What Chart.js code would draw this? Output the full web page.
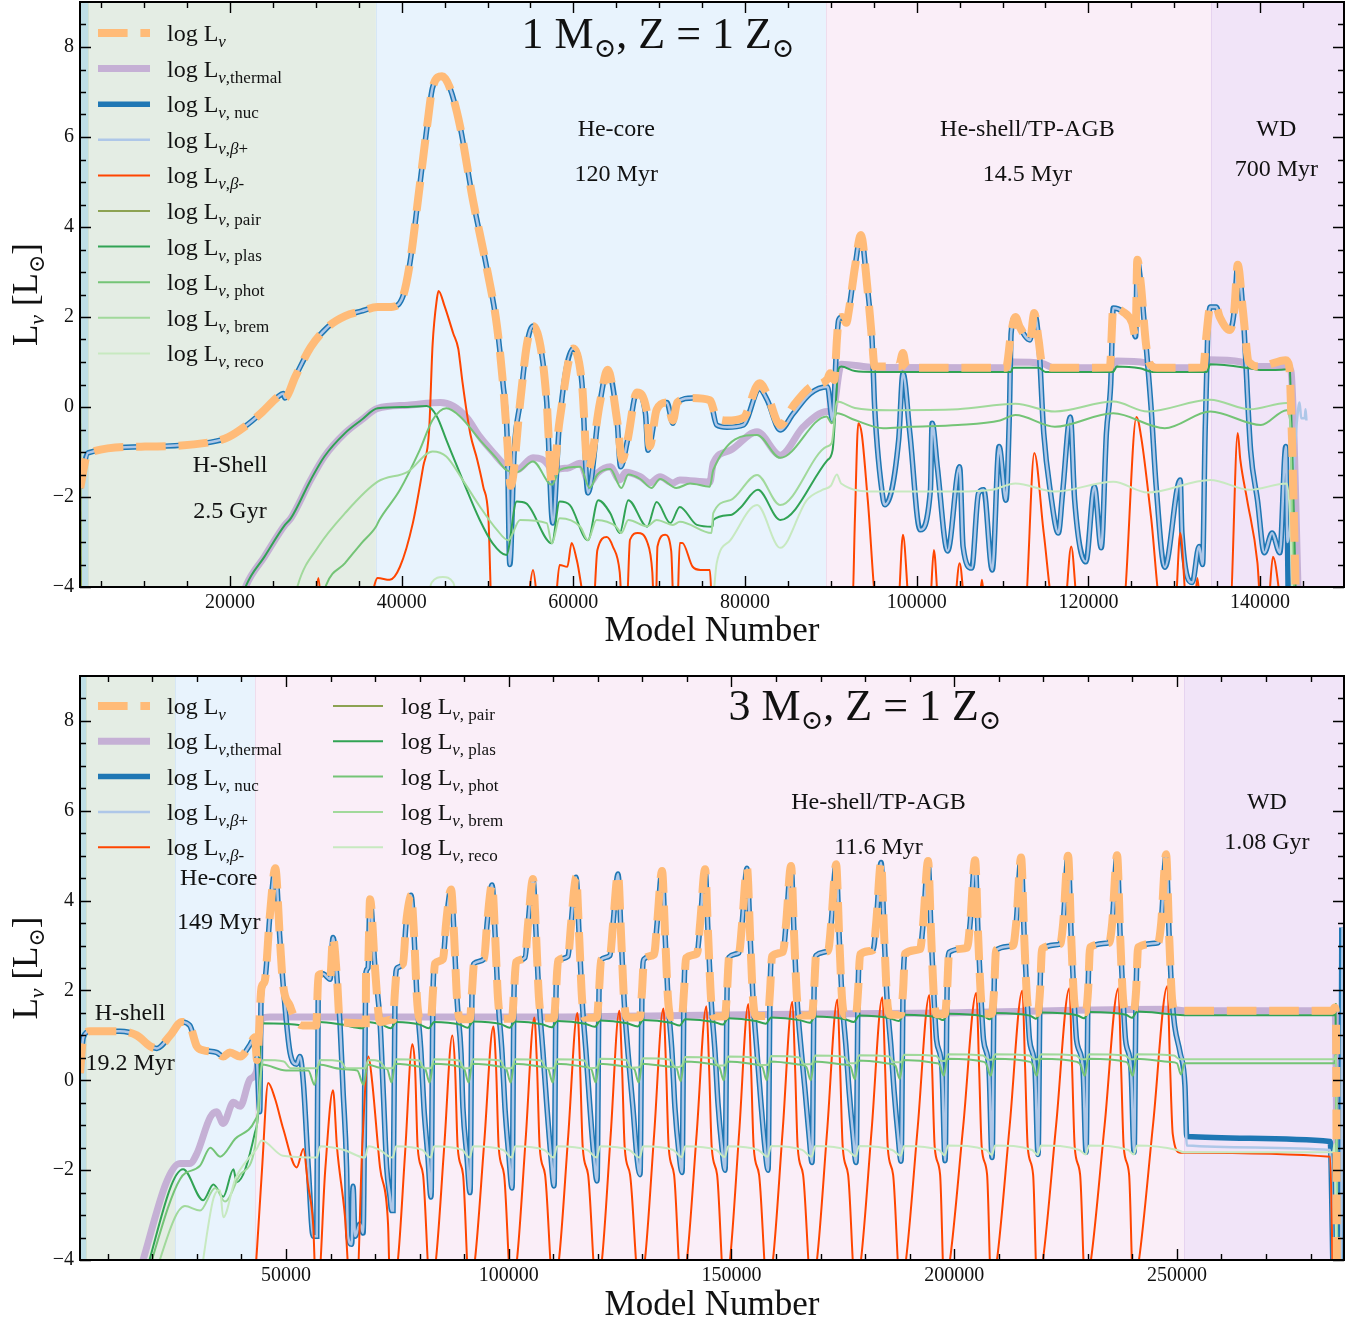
<!DOCTYPE html>
<html>
<head>
<meta charset="utf-8">
<script src="https://cdn.jsdelivr.net/npm/chart.js@4.4.1/dist/chart.umd.min.js"></script>
<style>
  body { margin: 0; background: #fff; }
  #wrap { position: relative; width: 1364px; height: 1323px; }
  canvas { position: absolute; left: 0; }
  #c1 { top: 0; }
  #c2 { top: 662px; }
</style>
</head>
<body>
<div id="wrap">
  <canvas id="c1" width="1364" height="660"></canvas>
  <canvas id="c2" width="1364" height="661"></canvas>
</div>
<script>
const SERIF = '"Liberation Serif", "DejaVu Serif", serif';

// ---------------- top panel: 1 Msun, Z = 1 Zsun ----------------
const xLim1 = [2525, 149780];
const xMajor1 = [20000, 40000, 60000, 80000, 100000, 120000, 140000];
const xMinorStep1 = 5000;
const phases1 = [2525, 3460, 37000, 89430, 134300, 149780];
const notes1 = [
  ["H-Shell", 20000, -1.31], ["2.5 Gyr", 20000, -2.33],
  ["He-core", 65000, 6.16], ["120 Myr", 65000, 5.16],
  ["He-shell/TP-AGB", 112900, 6.16], ["14.5 Myr", 112900, 5.16],
  ["WD", 141900, 6.16], ["700 Myr", 141900, 5.27]
];

const tot1 = [[2550,-1.8],[3460,-1.02],[10100,-0.88],[17800,-0.78],[19800,-0.67],[21700,-0.44],[23600,-0.14],[25600,0.23],[26200,0.3],[26400,0.2],[27600,0.67],[29400,1.33],[31400,1.78],[33400,2.02],[35300,2.13],[37200,2.22],[39000,2.23],[40200,2.49],[41000,3.25],[41900,4.6],[43000,6.3],[43600,7.1],[44700,7.35],[45600,7.1],[46800,6.24],[48300,4.6],[49900,3.1],[51100,1.8],[51800,0.53],[52300,-0.75],[52700,-1.75],[53800,0.1],[54600,1.4],[55300,1.8],[56300,1.2],[56900,0.1],[57500,-1.7],[58400,-0.3],[60000,1.3],[61000,0.53],[61700,-1.4],[63100,0.1],[64000,0.83],[65100,-0.3],[65700,-1.17],[66300,-0.75],[67400,0.32],[68600,-0.15],[68900,-0.87],[69700,-0.06],[70900,0.1],[71600,-0.3],[72100,0.1],[73900,0.2],[75900,0.15],[76700,-0.24],[77900,-0.3],[79800,-0.24],[81700,0.53],[82600,0.27],[84100,-0.4],[85600,0.02],[87600,0.44],[89600,0.62],[89900,0.75],[90400,0.6],[90700,1.49],[90900,1.93],[91300,2.0],[91800,1.87],[92100,2.15],[92800,3.1],[93500,3.82],[94200,2.75],[94800,1.49],[95100,0.9],[97900,0.9],[98400,1.2],[98800,0.87],[104800,0.87],[110400,0.87],[111000,1.64],[111500,2.0],[112000,1.78],[113200,1.49],[113700,2.09],[114200,1.49],[114600,0.97],[116000,0.87],[122500,0.88],[122900,2.2],[124000,2.12],[125100,1.87],[125500,1.56],[125700,3.27],[126100,2.75],[126700,1.42],[127100,0.98],[128000,0.87],[133400,0.88],[133700,1.49],[134200,2.22],[134900,2.22],[135300,2.0],[136500,1.71],[137000,2.15],[137400,3.16],[138000,2.15],[138700,1.0],[140000,0.9],[143000,1.04],[143400,0.9],[143700,-0.6],[144200,-4.5]];

const nuc1 = [[2550,-1.8],[3460,-1.02],[10100,-0.88],[17800,-0.78],[19800,-0.67],[21700,-0.44],[23600,-0.14],[25600,0.23],[26200,0.3],[26400,0.2],[27600,0.67],[29400,1.33],[31400,1.78],[33400,2.02],[35300,2.13],[37200,2.22],[39000,2.23],[40200,2.49],[41000,3.25],[41900,4.6],[43000,6.3],[43600,7.1],[44700,7.35],[45600,7.1],[46800,6.24],[48300,4.6],[49900,3.1],[51100,1.8],[51800,0.53],[52300,-0.75],[52600,-3.5],[53100,-1.0],[53800,0.1],[54600,1.4],[55300,1.8],[56300,1.2],[56900,0.1],[57600,-2.58],[58400,-0.3],[60000,1.3],[61000,0.53],[61700,-1.91],[63100,0.1],[64000,0.83],[65100,-0.3],[65500,-1.33],[66300,-0.75],[67400,0.32],[68400,-0.15],[68700,-0.96],[69700,-0.06],[70900,0.1],[71600,-0.36],[72100,0.1],[73900,0.2],[75900,0.15],[76700,-0.4],[77900,-0.45],[79800,-0.4],[81700,0.4],[82600,0.15],[84100,-0.51],[85600,-0.15],[87600,0.3],[89600,0.45],[90200,-0.3],[90700,1.49],[90900,1.93],[91300,2.0],[91800,1.87],[92100,2.15],[92800,3.1],[93500,3.82],[94200,2.75],[94800,1.49],[95100,0.0],[96100,-2.07],[96300,-2.17],[97900,-0.73],[98400,0.75],[99200,-0.58],[100400,-2.73],[101600,-1.84],[101800,-0.36],[102400,-1.33],[103600,-3.2],[105000,-1.33],[105400,-3.1],[106400,-3.58],[107200,-1.92],[107800,-1.84],[108800,-3.62],[109600,-0.88],[110400,-2.07],[110800,-0.14],[111000,1.64],[111500,2.0],[112000,1.78],[113200,1.49],[113700,2.09],[114200,1.49],[114800,-0.58],[115600,-1.92],[116500,-2.8],[117000,-1.9],[117900,-0.22],[118400,-2.07],[119700,-3.44],[120700,-1.77],[121500,-3.13],[122100,-0.58],[122600,0.5],[122900,2.2],[124000,2.12],[125100,1.87],[125500,1.56],[125700,3.27],[126100,2.75],[126700,1.42],[127300,0.0],[127900,-1.77],[128900,-3.56],[130700,-1.62],[130900,-2.8],[132100,-3.9],[132900,-3.1],[133300,-3.5],[133600,-0.58],[133900,1.6],[134200,2.22],[134900,2.22],[135300,2.0],[136500,1.71],[137000,2.15],[137400,3.16],[138000,2.15],[138900,-0.96],[139700,-2.07],[140500,-3.24],[141400,-2.8],[142300,-3.24],[143000,-0.88],[143300,-4.5]];

// beta+ sits on the nuclear curve, with a small tail of its own at the end
const bplus1 = nuc1.slice(0, -1).concat([[143200,-3.0],[144300,-0.3],[144600,0.1],[144800,-0.25],[145200,-0.25],[145300,-0.05],[145400,-0.3]]);

const therm1 = [[21000,-4.5],[21900,-3.96],[24000,-3.33],[26400,-2.62],[27100,-2.47],[29400,-1.62],[31000,-1.1],[33400,-0.58],[35300,-0.29],[37200,-0.03],[40700,0.04],[44500,0.1],[46000,0.02],[47600,-0.24],[49100,-0.66],[50600,-1.0],[52300,-1.34],[53400,-1.4],[55300,-1.13],[57300,-1.36],[57600,-1.62],[58000,-1.4],[59300,-1.36],[60800,-1.25],[61900,-1.69],[62800,-1.47],[64300,-1.33],[65400,-1.62],[66100,-1.45],[67800,-1.55],[68900,-1.69],[70100,-1.55],[71600,-1.69],[72400,-1.62],[75900,-1.67],[76300,-1.25],[78300,-0.96],[81400,-0.55],[84100,-1.07],[86800,-0.44],[89600,-0.1],[90200,-0.1],[91000,0.82],[91200,0.95],[95100,0.88],[110400,0.87],[111200,1.0],[114600,0.97],[116000,0.87],[122900,0.88],[123300,1.02],[126700,0.98],[128000,0.87],[133500,0.88],[133900,1.05],[137800,1.0],[139000,0.9],[143100,0.9],[143600,0.8],[144500,-4.5]];

const bminus1 = [[29800,-4.5],[30300,-3.8],[30700,-4.5],[36000,-4.5],[37200,-3.8],[38600,-3.84],[39800,-3.55],[41300,-2.58],[42500,-1.33],[43200,-0.51],[43600,1.38],[44100,2.4],[44300,2.58],[45000,2.24],[46000,1.64],[46600,1.29],[46800,1.0],[47100,0.53],[48000,-0.6],[48800,-1.17],[49500,-1.77],[50100,-2.45],[50500,-4.5],[54500,-4.5],[55300,-3.62],[56000,-4.5],[57800,-4.5],[58400,-3.51],[59300,-3.55],[59800,-3.02],[60400,-3.4],[61600,-4.5],[62300,-4.5],[62800,-3.18],[63900,-2.89],[64600,-3.1],[65400,-3.67],[65700,-4.5],[66200,-4.5],[66600,-2.95],[67500,-2.8],[68600,-3.0],[69200,-3.67],[69400,-4.5],[69600,-4.5],[69800,-3.1],[70700,-2.84],[71400,-3.2],[71700,-4.5],[72100,-4.5],[72400,-3.02],[72700,-3.02],[73900,-3.55],[74800,-3.62],[75900,-3.62],[76200,-4.5],[92500,-4.5],[92800,-2.5],[93200,-0.36],[93600,-0.6],[94300,-2.07],[95400,-4.5],[97800,-4.5],[98400,-2.84],[99200,-4.5],[101500,-4.5],[102000,-3.18],[102600,-4.5],[104300,-4.5],[105000,-3.47],[105700,-4.5],[107200,-4.5],[107600,-3.84],[108000,-4.5],[112600,-4.5],[113700,-1.02],[114800,-2.8],[116000,-4.5],[117200,-4.5],[118000,-3.1],[118800,-4.5],[124000,-4.5],[125600,-0.22],[126200,-0.73],[127300,-2.44],[128500,-4.5],[130100,-4.5],[130700,-2.8],[131500,-4.5],[132300,-4.5],[132700,-3.8],[133100,-4.5],[136500,-4.5],[137400,-0.58],[137700,-1.17],[138500,-2.07],[139700,-3.47],[140100,-4.5],[140900,-4.5],[141500,-3.33],[142500,-4.5]];

const pair1 = [[2550,0.0],[2650,-4.5]];

const plas1 = [[21000,-4.5],[21900,-3.96],[24000,-3.33],[26400,-2.62],[27100,-2.47],[29400,-1.62],[31000,-1.1],[33400,-0.58],[35300,-0.29],[37200,-0.03],[40700,0.0],[42900,0.02],[44100,-0.21],[45200,-0.73],[47100,-1.62],[49100,-2.51],[50600,-3.03],[52200,-3.29],[53400,-2.1],[54500,-2.14],[57500,-3.03],[58400,-2.1],[59600,-2.18],[61700,-2.96],[62900,-2.07],[64300,-2.36],[65400,-2.8],[66400,-2.07],[68600,-2.66],[69700,-2.11],[71300,-2.58],[72400,-2.22],[74400,-2.62],[76200,-2.66],[76300,-2.51],[78300,-2.4],[79400,-2.25],[81500,-1.84],[84100,-2.51],[89600,-1.18],[90200,-0.96],[90900,0.85],[91200,0.9],[92800,0.8],[95100,0.78],[111000,0.78],[111200,0.87],[114200,0.87],[115000,0.78],[122900,0.78],[123300,0.9],[126000,0.86],[127500,0.78],[133800,0.78],[134200,0.95],[138800,0.86],[140000,0.82],[143100,0.84],[143400,1.0],[143700,-0.6],[144200,-4.5]];

const phot1 = [[30500,-4.5],[31200,-3.96],[33400,-3.47],[35300,-3.03],[37000,-2.66],[37400,-2.51],[39800,-1.84],[42100,-0.96],[43600,-0.29],[45200,-0.03],[46800,-0.21],[49100,-0.73],[51000,-1.13],[52200,-1.4],[53400,-1.45],[55300,-1.21],[57500,-1.73],[58400,-1.4],[60800,-1.33],[61900,-1.8],[62800,-1.5],[64300,-1.38],[65600,-1.8],[66400,-1.5],[67800,-1.6],[69100,-1.8],[70100,-1.6],[72000,-1.8],[73600,-1.7],[75900,-1.77],[76300,-1.4],[81400,-0.62],[84100,-1.13],[89500,-0.21],[90100,-0.36],[90700,-0.14],[92800,-0.29],[96100,-0.47],[99200,-0.44],[104800,-0.4],[109700,-0.3],[111500,-0.18],[116100,-0.44],[122900,-0.14],[128900,-0.47],[134200,-0.1],[140100,-0.4],[143100,-0.07],[143500,-0.3],[144000,-4.5]];

const brem1 = [[27300,-4.5],[27900,-3.96],[30300,-3.1],[33400,-2.36],[37200,-1.66],[40700,-1.44],[43600,-0.99],[45200,-1.1],[47100,-1.62],[49100,-2.21],[51100,-2.73],[52400,-2.96],[53800,-2.51],[56900,-2.58],[57500,-3.03],[58400,-2.47],[60800,-2.66],[61700,-2.96],[62700,-2.51],[65000,-2.66],[65600,-2.8],[66400,-2.51],[68600,-2.65],[69700,-2.51],[71600,-2.62],[72400,-2.55],[76100,-2.8],[76300,-2.36],[78300,-2.07],[81400,-1.51],[84100,-2.18],[89500,-0.88],[90100,-0.8],[90700,0.12],[92800,-0.02],[96800,-0.07],[104800,-0.05],[111500,0.07],[116100,-0.1],[122900,0.12],[126900,-0.1],[134200,0.16],[138800,-0.05],[143100,0.09],[143500,-0.3],[143800,-4.5]];

const reco1 = [[42800,-4.5],[43500,-3.9],[44800,-3.78],[46000,-3.9],[46800,-4.5],[76100,-4.5],[76700,-3.47],[78300,-2.96],[81400,-2.18],[84100,-3.13],[87200,-2.07],[89000,-1.84],[90000,-1.75],[90700,-1.5],[91200,-1.7],[95100,-1.88],[104800,-1.88],[108800,-1.84],[111500,-1.7],[116100,-1.88],[122900,-1.66],[126900,-1.9],[134200,-1.62],[138800,-1.84],[143100,-1.7],[143500,-2.5],[143800,-4.5]];

// ---------------- bottom panel: 3 Msun, Z = 1 Zsun ----------------
const xLim2 = [3750, 287500];
const xMajor2 = [50000, 100000, 150000, 200000, 250000];
const xMinorStep2 = 10000;
const phases2 = [3750, 5100, 25080, 43040, 251600, 287500];
const notes2 = [
  ["H-shell", 15000, 1.49], ["19.2 Myr", 15000, 0.38],
  ["He-core", 34900, 4.48], ["149 Myr", 34900, 3.5],
  ["He-shell/TP-AGB", 183000, 6.19], ["11.6 Myr", 183000, 5.17],
  ["WD", 270200, 6.19], ["1.08 Gyr", 270200, 5.28]
];

const tot2 = [[3750,0.16],[4500,0.96],[6000,1.09],[12700,1.09],[16500,1.0],[19500,0.76],[21000,0.71],[24000,1.0],[26600,1.3],[28400,1.22],[29950,0.76],[31400,0.67],[34400,0.62],[35900,0.53],[37400,0.62],[39700,0.53],[41900,0.79],[43000,0.96],[43500,0.45],[44500,2.07],[45200,2.2],[46400,3.7],[47600,4.72],[48600,3.18],[49300,2.16],[50900,1.65],[52400,1.3],[53800,1.22],[56800,1.22],[57250,2.33],[58300,2.37],[59900,2.25],[60550,3.18],[61400,2.33],[62100,1.3],[67900,1.27],[67960,2.41],[68400,2.5],[68860,4.03],[69980,2.49],[71100,1.3],[73800,1.35],
[74020,1.35],[74470,2.0],[74920,2.5],[76260,2.6],[76960,3.5],[78060,4.12],[78760,3.2],[79410,1.8],[80060,1.35],[82350,1.35],
[82550,1.36],[83000,2.0],[83450,2.6],[85240,2.7],[85940,3.5],[87040,4.25],[87740,3.2],[88390,1.8],[89040,1.36],[91110,1.36],
[91310,1.37],[91760,2.0],[92210,2.6],[94450,2.7],[95150,3.5],[96250,4.35],[96950,3.2],[97600,1.8],[98250,1.37],[100540,1.37],
[100740,1.38],[101190,2.0],[101640,2.63],[103650,2.73],[104350,3.5],[105450,4.48],[106150,3.2],[106800,1.8],[107450,1.38],[109970,1.38],
[110170,1.39],[110620,2.0],[111070,2.66],[113310,2.76],[114010,3.5],[115110,4.52],[115810,3.2],[116460,1.8],[117110,1.39],[119620,1.39],
[119820,1.4],[120270,2.0],[120720,2.68],[122730,2.78],[123430,3.5],[124530,4.59],[125230,3.2],[125880,1.8],[126530,1.4],[129270,1.4],
[129470,1.41],[129920,2.0],[130370,2.7],[132610,2.8],[133310,3.5],[134410,4.66],[135110,3.2],[135760,1.8],[136410,1.41],[138700,1.41],
[138900,1.42],[139350,2.0],[139800,2.72],[142270,2.82],[142970,3.5],[144070,4.7],[144770,3.2],[145420,1.8],[146070,1.42],[148360,1.42],
[148560,1.43],[149010,2.0],[149460,2.74],[151690,2.84],[152390,3.5],[153490,4.72],[154190,3.2],[154840,1.8],[155490,1.43],[158010,1.43],
[158210,1.44],[158660,2.0],[159110,2.76],[161570,2.86],[162270,3.5],[163370,4.77],[164070,3.2],[164720,1.8],[165370,1.44],[167890,1.44],
[168090,1.45],[168540,2.0],[168990,2.78],[171680,2.88],[172380,3.5],[173480,4.81],[174180,3.2],[174830,1.8],[175480,1.45],[177770,1.45],
[177970,1.46],[178420,2.0],[178870,2.8],[181780,2.9],[182480,3.5],[183580,4.85],[184280,3.2],[184930,1.8],[185580,1.46],[187870,1.46],
[188070,1.47],[188520,2.0],[188970,2.82],[192330,2.92],[193030,3.5],[194130,4.88],[194830,3.2],[195480,1.8],[196130,1.47],[197750,1.47],
[197950,1.48],[198400,2.0],[198850,2.85],[202880,2.95],[203580,3.5],[204680,4.9],[205380,3.2],[206030,1.8],[206680,1.48],[208300,1.48],
[208500,1.5],[208950,2.0],[209400,2.9],[213210,3.0],[213910,3.5],[215010,4.96],[215710,3.2],[216360,1.8],[217010,1.5],[218620,1.5],
[218820,1.52],[219270,2.0],[219720,2.93],[223760,3.03],[224460,3.5],[225560,5.0],[226260,3.2],[226910,1.8],[227560,1.52],[229400,1.52],
[229600,1.54],[230050,2.0],[230500,2.96],[234760,3.06],[235460,3.5],[236560,5.01],[237260,3.2],[237910,1.8],[238560,1.54],[240180,1.54],
[240380,1.56],[240830,2.0],[241280,2.96],[245760,3.06],[246460,3.5],[247560,5.03],[248260,3.2],[248910,1.8],[249560,1.56],[251600,1.55],[284900,1.55],[285400,1.62],[285700,1.5],[285900,-4.6]];

const nuc2Main = [[3750,0.16],[4500,0.96],[6000,1.09],[12700,1.09],[16500,1.0],[19500,0.76],[21000,0.71],[24000,1.0],[26600,1.3],[28400,1.22],[29950,0.76],[31400,0.67],[34400,0.62],[35900,0.53],[37400,0.62],[39700,0.53],[41900,0.79],[43000,0.96],[43500,0.45],[44100,-0.7],[44400,1.8],[45200,2.2],[46400,3.7],[47600,4.72],[48600,3.18],[49330,2.16],[50900,0.62],[52400,0.36],[53100,0.53],[53900,-0.07],[55000,-1.94],[56100,-3.47],[56900,-3.47],[57250,2.33],[58300,2.37],[59900,2.25],[60550,3.18],[61400,2.33],[62100,1.3],[62800,-0.22],[63600,-1.94],[63900,-3.47],[64750,-3.65],[65040,-2.36],[65500,-3.47],[66600,-3.2],[67300,-3.4],[67960,2.41],[68400,2.5],[68860,4.03],[69980,2.49],[71100,1.3],[71800,-0.2],[72600,-1.94],[73350,-2.6],[73700,-2.9],
[74020,-2.9],[74470,2.0],[74920,2.5],[76260,2.6],[76960,3.5],[78060,4.12],[78760,3.2],[79410,1.8],[80310,0.6],[80950,-0.6],[81850,-1.7],
[82550,-2.6],[83000,2.0],[83450,2.6],[85240,2.7],[85940,3.5],[87040,4.25],[87740,3.2],[88390,1.8],[89290,0.6],[89710,-0.6],[90610,-1.7],
[91310,-2.5],[91760,2.0],[92210,2.6],[94450,2.7],[95150,3.5],[96250,4.35],[96950,3.2],[97600,1.8],[98500,0.6],[99140,-0.6],[100040,-1.7],
[100740,-2.4],[101190,2.0],[101640,2.63],[103650,2.73],[104350,3.5],[105450,4.48],[106150,3.2],[106800,1.8],[107700,0.6],[108570,-0.6],[109470,-1.7],
[110170,-2.35],[110620,2.0],[111070,2.66],[113310,2.76],[114010,3.5],[115110,4.52],[115810,3.2],[116460,1.8],[117360,0.6],[118220,-0.6],[119120,-1.7],
[119820,-2.24],[120270,2.0],[120720,2.68],[122730,2.78],[123430,3.5],[124530,4.59],[125230,3.2],[125880,1.8],[126780,0.6],[127870,-0.6],[128770,-1.7],
[129470,-2.1],[129920,2.0],[130370,2.7],[132610,2.8],[133310,3.5],[134410,4.66],[135110,3.2],[135760,1.8],[136660,0.6],[137300,-0.6],[138200,-1.6],
[138900,-2.05],[139350,2.0],[139800,2.72],[142270,2.82],[142970,3.5],[144070,4.7],[144770,3.2],[145420,1.8],[146320,0.6],[146960,-0.5],[147860,-1.5],
[148560,-2.0],[149010,2.0],[149460,2.74],[151690,2.84],[152390,3.5],[153490,4.72],[154190,3.2],[154840,1.8],[155740,0.6],[156610,-0.5],[157510,-1.5],
[158210,-2.0],[158660,2.0],[159110,2.76],[161570,2.86],[162270,3.5],[163370,4.77],[164070,3.2],[164720,1.8],[165620,0.7],[166490,-0.2],[167390,-1.2],
[168090,-1.83],[168540,2.0],[168990,2.78],[171680,2.88],[172380,3.5],[173480,4.81],[174180,3.2],[174830,1.8],[175730,0.7],[176370,-0.2],[177270,-1.2],
[177970,-1.83],[178420,2.0],[178870,2.8],[181780,2.9],[182480,3.5],[183580,4.85],[184280,3.2],[184930,1.8],[185830,0.7],[186470,-0.2],[187370,-1.2],
[188070,-1.8],[188520,2.0],[188970,2.82],[192330,2.92],[193030,3.5],[194130,4.88],[194830,3.2],[195480,1.8],[196030,0.9],[197250,0.25],
[197950,-1.79],[198400,2.0],[198850,2.85],[202880,2.95],[203580,3.5],[204680,4.9],[205380,3.2],[206030,1.8],[206580,0.9],[207800,0.25],
[208500,-1.72],[208950,2.0],[209400,2.9],[213210,3.0],[213910,3.5],[215010,4.96],[215710,3.2],[216360,1.8],[216910,0.9],[218120,0.25],
[218820,-1.65],[219270,2.0],[219720,2.93],[223760,3.03],[224460,3.5],[225560,5.0],[226260,3.2],[226910,1.8],[227460,0.9],[228900,0.25],
[229600,-1.6],[230050,2.0],[230500,2.96],[234760,3.06],[235460,3.5],[236560,5.01],[237260,3.2],[237910,1.8],[238460,0.9],[239680,0.25],
[240380,-1.6],[240830,2.0],[241280,2.96],[245760,3.06],[246460,3.5],[247560,5.03],[248260,3.2],[248910,1.8],[249500,1.2],[250700,0.62],[251800,-0.13]];
const nuc2 = nuc2Main.concat([[252200,-1.25],[284400,-1.36],[285200,-4.6],[286700,-4.6],[287000,3.4]]);
const bplus2 = nuc2Main.concat([[252200,-1.45],[284400,-1.55],[285200,-4.6],[286850,-4.6],[287150,3.4]]);

const therm2 = [[16000,-4.6],[26200,-1.85],[28400,-1.85],[29950,-1.64],[33000,-0.82],[34400,-0.7],[35900,-0.96],[38200,-0.49],[39700,-0.58],[41900,0.02],[43400,0.2],[44500,1.37],[46400,1.41],[105000,1.41],[143000,1.45],[197000,1.5],[248500,1.58],[251600,1.55],[285500,1.55],[286100,-4.6]];

const bminus2 = [[42900,-4.6],[43500,-3.73],[44600,-2.0],[46000,-0.06],[47500,-0.4],[49400,-1.09],[52400,-1.94],[53900,-1.53],[54900,-2.3],[56100,-3.22],[56700,-4.6],[57200,-4.6],[58800,-2.0],[60550,-0.22],[61450,-1.5],[63200,-3.0],[64400,-4.6],[65900,-4.6],[67100,-1.5],[68500,0.53],[69300,0.0],[71100,-1.94],[72900,-3.2],[73350,-4.6],
[73820,-4.6],[75120,-4.0],[76740,-1.6],[78360,0.8],[78960,0.3],[79560,-1.5],[80760,-2.1],
[82350,-4.6],[83650,-4.0],[85500,-1.5],[87340,1.0],[87940,0.3],[88540,-1.5],[89740,-2.1],
[91110,-4.6],[92410,-4.0],[94480,-1.4],[96550,1.2],[97150,0.3],[97750,-1.5],[98950,-2.1],
[100540,-4.6],[101840,-4.0],[103800,-1.3],[105750,1.4],[106350,0.3],[106950,-1.5],[108150,-2.1],
[109970,-4.6],[111270,-4.0],[113340,-1.25],[115410,1.5],[116010,0.3],[116610,-1.5],[117810,-2.1],
[119620,-4.6],[120920,-4.0],[122880,-1.22],[124830,1.55],[125430,0.3],[126030,-1.5],[127230,-2.1],
[129270,-4.6],[130570,-4.0],[132640,-1.2],[134710,1.6],[135310,0.3],[135910,-1.5],[137110,-2.1],
[138700,-4.6],[140000,-4.0],[142190,-1.18],[144370,1.65],[144970,0.3],[145570,-1.5],[146770,-2.1],
[148360,-4.6],[149660,-4.0],[151730,-1.15],[153790,1.7],[154390,0.3],[154990,-1.5],[156190,-2.1],
[158010,-4.6],[159310,-4.0],[161490,-1.12],[163670,1.75],[164270,0.3],[164870,-1.5],[166070,-2.1],
[167890,-4.6],[169190,-4.0],[171490,-1.1],[173780,1.8],[174380,0.3],[174980,-1.5],[176180,-2.1],
[177770,-4.6],[179070,-4.0],[181480,-1.08],[183880,1.85],[184480,0.3],[185080,-1.5],[186280,-2.1],
[187870,-4.6],[189170,-4.0],[191800,-1.05],[194430,1.9],[195030,0.3],[195630,-1.5],[196830,-2.1],
[197750,-4.6],[199050,-4.0],[202020,-1.02],[204980,1.95],[205580,0.3],[206180,-1.5],[207380,-2.1],
[208300,-4.6],[209600,-4.0],[212460,-1.0],[215310,2.0],[215910,0.3],[216510,-1.5],[217710,-2.1],
[218620,-4.6],[219920,-4.0],[222890,-0.98],[225860,2.05],[226460,0.3],[227060,-1.5],[228260,-2.1],
[229400,-4.6],[230700,-4.0],[233780,-0.98],[236860,2.05],[237460,0.3],[238060,-1.5],[239260,-2.1],
[240180,-4.6],[241480,-4.0],[244670,-0.95],[247860,2.1],[248460,0.3],[249060,-1.2],[250700,-1.61],[284400,-1.7],[285000,-4.6]];

const pair2 = [];

const plas2 = [[17500,-4.6],[26900,-1.98],[31400,-2.67],[33700,-2.32],[35900,-2.59],[38200,-1.98],[38900,-2.27],[43000,-1.17],[43800,-0.66],[44500,1.27],[53800,1.22],[56400,1.16],[57500,1.3],[62500,1.24],[67200,1.16],[68300,1.3],[71500,1.24],
[73520,1.16],[74720,1.3],[80060,1.24],[82050,1.16],[83250,1.3],[89040,1.24],[90810,1.17],[92010,1.31],[98250,1.25],[100240,1.17],[101440,1.31],[107450,1.25],
[109670,1.18],[110870,1.32],[117110,1.26],[119320,1.19],[120520,1.33],[126530,1.27],[128970,1.2],[130170,1.34],[136410,1.28],[138400,1.22],[139600,1.36],[146070,1.3],
[148060,1.24],[149260,1.38],[155490,1.32],[157710,1.26],[158910,1.4],[165370,1.34],[167590,1.28],[168790,1.42],[175480,1.36],[177470,1.3],[178670,1.44],[185580,1.38],
[187570,1.32],[188770,1.46],[196130,1.4],[197450,1.34],[198650,1.48],[206680,1.42],[208000,1.36],[209200,1.5],[217010,1.44],[218320,1.37],[219520,1.51],[227560,1.45],
[229100,1.38],[230300,1.52],[238560,1.46],[239880,1.39],[241080,1.53],[248560,1.47],[251600,1.45],[285300,1.45],[285600,1.7],[286000,-4.6]];

const phot2 = [[18000,-4.6],[26200,-2.2],[30700,-1.9],[33000,-1.5],[35200,-1.7],[38600,-1.3],[43000,-0.9],[43900,-0.6],[44600,0.35],[50000,0.22],[55000,0.22],[56400,-0.1],[57300,0.35],[62500,0.25],[66000,0.22],[67400,-0.1],[68300,0.35],[71100,0.28],
[72700,0.25],[73700,-0.05],[74500,0.37],[80060,0.3],[81250,0.25],[82250,-0.05],[83050,0.37],[89040,0.3],[90000,0.25],[91000,-0.05],[91800,0.37],[98250,0.3],
[99440,0.25],[100440,-0.05],[101240,0.37],[107450,0.3],[108870,0.25],[109870,-0.05],[110670,0.37],[117110,0.3],[118520,0.25],[119520,-0.05],[120320,0.37],[126530,0.3],
[128170,0.25],[129170,-0.05],[129970,0.37],[136410,0.3],[137600,0.28],[138600,-0.02],[139400,0.42],[146070,0.35],[147260,0.3],[148260,0.0],[149060,0.42],[155490,0.35],
[156910,0.3],[157910,0.0],[158710,0.42],[165370,0.35],[166790,0.3],[167790,0.0],[168590,0.42],[175480,0.35],[176670,0.32],[177670,0.02],[178470,0.44],[185580,0.37],
[186770,0.33],[187770,0.03],[188570,0.45],[196130,0.38],[196650,0.36],[197650,0.1],[198450,0.48],[206680,0.41],[207200,0.36],[208200,0.1],[209000,0.48],[217010,0.41],
[217520,0.36],[218520,0.1],[219320,0.48],[227560,0.41],[228300,0.36],[229300,0.1],[230100,0.48],[238560,0.41],[239080,0.36],[240080,0.1],[240880,0.48],[248560,0.41],
[250000,0.38],[250900,0.13],[251700,0.38],[285300,0.38],[285700,0.6],[286000,-4.6]];

const brem2 = [[19500,-4.6],[27300,-2.8],[30700,-2.9],[34100,-2.4],[36300,-2.7],[39700,-2.1],[43000,-1.5],[44200,0.0],[44800,0.45],[49500,0.42],[51000,0.27],[56900,0.27],[57700,0.45],[62300,0.42],[63500,0.27],[67700,0.27],[68500,0.45],[71000,0.42],[72500,0.27],
[73920,0.27],[74720,0.47],[79860,0.44],[81060,0.27],[82450,0.27],[83250,0.47],[88840,0.44],[90040,0.27],[91210,0.27],[92010,0.47],[98050,0.44],[99250,0.27],
[100640,0.27],[101440,0.47],[107250,0.44],[108450,0.27],[110070,0.27],[110870,0.47],[116910,0.44],[118110,0.27],[119720,0.28],[120520,0.48],[126330,0.45],[127530,0.28],
[129370,0.29],[130170,0.49],[136210,0.46],[137410,0.29],[138800,0.32],[139600,0.52],[145870,0.49],[147070,0.33],[148460,0.33],[149260,0.53],[155290,0.5],[156490,0.34],
[158110,0.34],[158910,0.54],[165170,0.51],[166370,0.36],[167990,0.36],[168790,0.55],[175280,0.52],[176480,0.38],[177870,0.38],[178670,0.56],[185380,0.53],[186580,0.4],
[187970,0.4],[188770,0.57],[195930,0.54],[197130,0.43],[197850,0.43],[198650,0.58],[206480,0.55],[207680,0.46],[208400,0.46],[209200,0.58],[216810,0.55],[218010,0.47],
[218720,0.47],[219520,0.58],[227360,0.55],[228560,0.47],[229500,0.47],[230300,0.58],[238360,0.55],[239560,0.47],[240280,0.47],[241080,0.58],[249360,0.55],[250560,0.47],
[285300,0.47],[285700,0.55],[286000,-4.6]];

const reco2 = [[30500,-4.6],[33700,-2.63],[35200,-2.45],[35900,-3.05],[38600,-2.2],[41900,-1.7],[43400,-1.53],[44500,-1.34],[49300,-1.68],[56900,-1.72],[57700,-1.47],[63000,-1.55],[67700,-1.72],[68500,-1.47],[71000,-1.55],
[73920,-1.72],[74720,-1.47],[80560,-1.55],[82450,-1.72],[83250,-1.47],[89540,-1.55],[91210,-1.72],[92010,-1.47],[98750,-1.55],[100640,-1.72],[101440,-1.47],[107950,-1.55],
[110070,-1.72],[110870,-1.47],[117610,-1.55],[119720,-1.72],[120520,-1.47],[127030,-1.55],[129370,-1.72],[130170,-1.47],[136910,-1.55],[138800,-1.71],[139600,-1.47],[146570,-1.55],
[148460,-1.71],[149260,-1.47],[155990,-1.55],[158110,-1.7],[158910,-1.46],[165870,-1.55],[167990,-1.7],[168790,-1.46],[175980,-1.55],[177870,-1.69],[178670,-1.46],[186080,-1.55],
[187970,-1.68],[188770,-1.46],[196630,-1.55],[197850,-1.67],[198650,-1.45],[207180,-1.55],[208400,-1.66],[209200,-1.45],[217510,-1.55],[218720,-1.66],[219520,-1.45],[228060,-1.55],
[229500,-1.65],[230300,-1.45],[239060,-1.55],[240280,-1.65],[241080,-1.45],[250060,-1.55],[251500,-1.6],[285000,-1.6],[285400,-1.42],[285800,-4.6]];

// ---------------- shared styling ----------------
const yMajor = [-4, -2, 0, 2, 4, 6, 8];
const yMinorStep = 0.5;
const phaseColors = ["#bfdfe6", "#e4ede4", "#e8f3fd", "#faeef8", "#f1e4f8"];
const phaseEdges = ["#a9d3dc", "#d3e3d3", "#d6e7f6", "#efdcec", "#e6d3f0"];

const styles = {
  tot:    { color: "#ffbb78", width: 8,   dash: [29.6, 12.8], order: 0 },
  therm:  { color: "#c5b0d5", width: 7,   order: 9 },
  nuc:    { color: "#1f77b4", width: 5.5, order: 8 },
  bplus:  { color: "#aec7e8", width: 2.5, order: 7 },
  bminus: { color: "#ff4500", width: 2,   order: 6 },
  pair:   { color: "#8ca252", width: 2,   order: 5 },
  plas:   { color: "#31a354", width: 2,   order: 4 },
  phot:   { color: "#74c476", width: 2,   order: 3 },
  brem:   { color: "#a1d99b", width: 2,   order: 2 },
  reco:   { color: "#c7e9c0", width: 2,   order: 1 }
};
const legendKeys = ["tot", "therm", "nuc", "bplus", "bminus", "pair", "plas", "phot", "brem", "reco"];
// subscript pieces after "log L": [text, italic]
const legendSubs = [
  [["ν", 1]],
  [["ν", 1], [",thermal", 0]],
  [["ν", 1], [", nuc", 0]],
  [["ν", 1], [",", 0], ["β", 1], ["+", 0]],
  [["ν", 1], [",", 0], ["β", 1], ["-", 0]],
  [["ν", 1], [", pair", 0]],
  [["ν", 1], [", plas", 0]],
  [["ν", 1], [", phot", 0]],
  [["ν", 1], [", brem", 0]],
  [["ν", 1], [", reco", 0]]
];

function fontOf(size, italic) {
  return (italic ? "italic " : "") + size + "px " + SERIF;
}

// parts: [text, size, dy, italic]
function drawRich(ctx, parts, x, y, align) {
  let w = 0;
  for (const p of parts) { ctx.font = fontOf(p[1], p[3]); w += ctx.measureText(p[0]).width; }
  let cx = align === "center" ? x - w / 2 : x;
  for (const p of parts) {
    ctx.font = fontOf(p[1], p[3]);
    ctx.fillText(p[0], cx, y + (p[2] || 0));
    cx += ctx.measureText(p[0]).width;
  }
}

function strokeSample(ctx, st, x0, x1, y) {
  ctx.save();
  ctx.strokeStyle = st.color;
  ctx.lineWidth = st.width;
  ctx.setLineDash(st.dash || []);
  ctx.beginPath();
  ctx.moveTo(x0, y);
  ctx.lineTo(x1, y);
  ctx.stroke();
  ctx.restore();
}

function makeDecor(o) {
  return {
    id: "decor",
    beforeDatasetsDraw(chart) {
      const { ctx, chartArea: a, scales: { x } } = chart;
      ctx.save();
      for (let i = 0; i < o.phases.length - 1; i++) {
        const x0 = x.getPixelForValue(o.phases[i]);
        const x1 = x.getPixelForValue(o.phases[i + 1]);
        ctx.fillStyle = phaseColors[i];
        ctx.fillRect(x0, a.top, x1 - x0, a.bottom - a.top);
      }
      ctx.lineWidth = 1;
      for (let i = 1; i < o.phases.length - 1; i++) {
        const px = Math.round(x.getPixelForValue(o.phases[i])) + 0.5;
        ctx.strokeStyle = phaseEdges[i];
        ctx.beginPath();
        ctx.moveTo(px, a.top);
        ctx.lineTo(px, a.bottom);
        ctx.stroke();
      }
      ctx.restore();
    },
    afterDatasetsDraw(chart) {
      const { ctx, scales: { x, y } } = chart;
      ctx.save();
      ctx.fillStyle = "#111";
      ctx.textBaseline = "middle";
      ctx.textAlign = "left";
      // phase labels
      for (const [t, vx, vy] of o.notes) {
        drawRich(ctx, [[t, 24, 0, 0]], x.getPixelForValue(vx), y.getPixelForValue(vy), "center");
      }
      // title
      ctx.textBaseline = "alphabetic";
      drawRich(ctx, [[o.mass + " M", 44, 0, 0], ["\u2299", 27, 9, 0], [", Z = 1 Z", 44, 0, 0], ["\u2299", 27, 9, 0]],
        o.titleX, o.titleY, "center");
      // legend
      o.legend.forEach((col) => {
        col.keys.forEach((k, i) => {
          const ry = col.y0 + i * col.dy;
          strokeSample(ctx, styles[k], col.lx0, col.lx1, ry);
          const subs = legendSubs[legendKeys.indexOf(k)].map(([t, it]) => [t, 17, 6, it]);
          ctx.fillStyle = "#111";
          drawRich(ctx, [["log L", 24, 0, 0]].concat(subs), col.tx, ry + 8, "left");
        });
      });
      ctx.restore();
    },
    afterDraw(chart) {
      const { ctx, chartArea: a, scales: { x, y } } = chart;
      ctx.save();
      ctx.strokeStyle = "#000";
      ctx.lineWidth = 1.4;
      ctx.beginPath();
      const xt = (v, len) => {
        const p = Math.round(x.getPixelForValue(v)) + 0.5;
        ctx.moveTo(p, a.bottom); ctx.lineTo(p, a.bottom - len);
        ctx.moveTo(p, a.top); ctx.lineTo(p, a.top + len);
      };
      const yt = (v, len) => {
        const p = Math.round(y.getPixelForValue(v)) + 0.5;
        ctx.moveTo(a.left, p); ctx.lineTo(a.left + len, p);
        ctx.moveTo(a.right, p); ctx.lineTo(a.right - len, p);
      };
      for (let v = o.xMinorStep; v < o.xLim[1]; v += o.xMinorStep) if (v > o.xLim[0]) xt(v, 6);
      o.xMajor.forEach((v) => xt(v, 11));
      for (let v = -4 + yMinorStep; v < 9; v += yMinorStep) yt(v, 6);
      yMajor.forEach((v) => yt(v, 11));
      ctx.stroke();
      ctx.lineWidth = 2;
      ctx.strokeRect(a.left, a.top, a.right - a.left, a.bottom - a.top);

      // axis titles
      ctx.fillStyle = "#111";
      ctx.textBaseline = "alphabetic";
      drawRich(ctx, [["Model Number", 35, 0, 0]], (a.left + a.right) / 2, o.xTitleY, "center");
      ctx.translate(26, (a.top + a.bottom) / 2);
      ctx.rotate(-Math.PI / 2);
      drawRich(ctx, [["L", 35, 0, 0], ["ν", 22, 7, 1], [" [L", 35, 0, 0], ["\u2299", 22, 7, 0], ["]", 35, 0, 0]], 0, 11, "center");
      ctx.restore();
    }
  };
}

function buildChart(id, o) {
  const datasets = o.series.map(([key, data]) => {
    const st = styles[key];
    return {
      label: key,
      data: data.map(([x, y]) => ({ x, y })),
      borderColor: st.color,
      borderWidth: st.width,
      borderDash: st.dash || [],
      pointRadius: 0,
      fill: false,
      cubicInterpolationMode: "monotone",
      clip: 0,
      order: st.order
    };
  });
  const tickFont = { family: SERIF, size: 20 };
  return new Chart(document.getElementById(id), {
    type: "line",
    data: { datasets },
    options: {
      responsive: false,
      animation: false,
      devicePixelRatio: 1,
      events: [],
      layout: { padding: { top: o.padTop, right: 20, left: 0, bottom: 0 } },
      plugins: { legend: { display: false }, tooltip: { enabled: false } },
      scales: {
        x: {
          type: "linear",
          min: o.xLim[0],
          max: o.xLim[1],
          grid: { display: false, drawTicks: false, tickLength: 0 },
          border: { display: false },
          afterBuildTicks: (s) => { s.ticks = o.xMajor.map((v) => ({ value: v })); },
          afterFit: (s) => { s.height = o.xAxisH; s.paddingLeft = s.paddingRight = s.paddingTop = s.paddingBottom = 0; },
          ticks: { font: tickFont, color: "#111", padding: 4, maxRotation: 0, autoSkip: false, callback: (v) => String(v) }
        },
        y: {
          min: -4,
          max: 9,
          grid: { display: false, drawTicks: false, tickLength: 0 },
          border: { display: false },
          afterBuildTicks: (s) => { s.ticks = yMajor.map((v) => ({ value: v })); },
          afterFit: (s) => { s.width = 80; s.paddingLeft = s.paddingRight = s.paddingTop = s.paddingBottom = 0; },
          ticks: { font: tickFont, color: "#111", padding: 6, callback: (v) => (v < 0 ? "\u2212" + (-v) : String(v)) }
        }
      }
    },
    plugins: [makeDecor(o)]
  });
}

buildChart("c1", {
  mass: "1",
  xLim: xLim1, xMajor: xMajor1, xMinorStep: xMinorStep1,
  phases: phases1, notes: notes1,
  padTop: 2, xAxisH: 73, xTitleY: 641,
  titleX: 658, titleY: 48,
  series: [["tot", tot1], ["therm", therm1], ["nuc", nuc1], ["bplus", bplus1], ["bminus", bminus1],
           ["pair", pair1], ["plas", plas1], ["phot", phot1], ["brem", brem1], ["reco", reco1]],
  legend: [{ keys: legendKeys, y0: 33, dy: 35.6, lx0: 98, lx1: 150, tx: 167 }]
});

buildChart("c2", {
  mass: "3",
  xLim: xLim2, xMajor: xMajor2, xMinorStep: xMinorStep2,
  phases: phases2, notes: notes2,
  padTop: 14, xAxisH: 63, xTitleY: 653,
  titleX: 865, titleY: 58,
  series: [["tot", tot2], ["therm", therm2], ["nuc", nuc2], ["bplus", bplus2], ["bminus", bminus2],
           ["pair", pair2], ["plas", plas2], ["phot", phot2], ["brem", brem2], ["reco", reco2]],
  legend: [
    { keys: legendKeys.slice(0, 5), y0: 44, dy: 35.3, lx0: 98, lx1: 150, tx: 167 },
    { keys: legendKeys.slice(5), y0: 44, dy: 35.3, lx0: 333, lx1: 383, tx: 401 }
  ]
});
</script>
</body>
</html>
